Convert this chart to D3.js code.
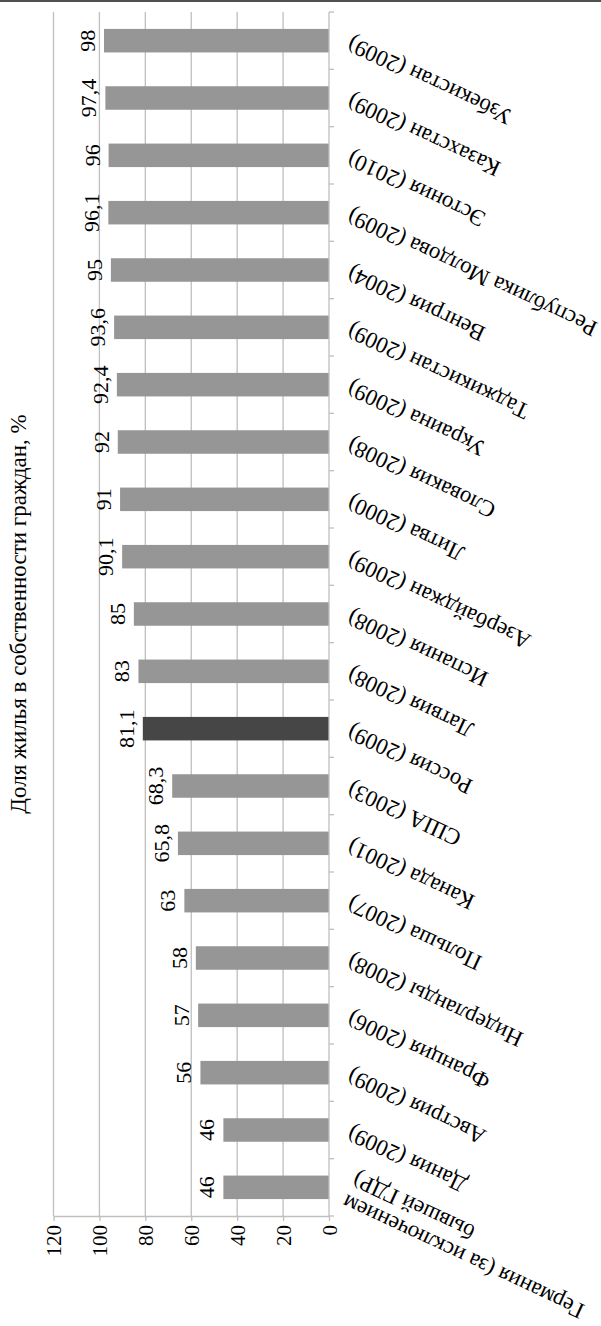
<!DOCTYPE html>
<html>
<head>
<meta charset="utf-8">
<script src="https://cdn.jsdelivr.net/npm/d3@7"></script>
<style>
  body { margin: 0; background: #fff; }
  svg { display: block; }
  svg text { font-family: "Liberation Serif", "Times New Roman", "DejaVu Serif", serif !important; fill: #000; }
</style>
</head>
<body>
<svg id="chart" width="601" height="1326"></svg>
<script>
// Categories listed from the top of the chart downwards
const categories = [
  "Узбекистан (2009)",
  "Казахстан (2009)",
  "Эстония (2010)",
  "Республика Молдова (2009)",
  "Венгрия (2004)",
  "Таджикистан (2009)",
  "Украина (2009)",
  "Словакия (2008)",
  "Литва (2000)",
  "Азербайджан (2009)",
  "Испания (2008)",
  "Латвия (2008)",
  "Россия (2009)",
  "США (2003)",
  "Канада (2001)",
  "Польша (2007)",
  "Нидерланды (2008)",
  "Франция (2006)",
  "Австрия (2009)",
  "Дания (2009)",
  "Германия (за исключением\nбывшей ГДР)"
];
const values = [98, 97.4, 96, 96.1, 95, 93.6, 92.4, 92, 91, 90.1, 85, 83, 81.1, 68.3, 65.8, 63, 58, 57, 56, 46, 46];
const highlighted = "Россия (2009)";
const valueTicks = [0, 20, 40, 60, 80, 100, 120];
const axisTitle = "Доля жилья в собственности граждан, %";

const data = categories.map((c, i) => ({ cat: c, value: values[i] }));
const fmt = v => String(v).replace(".", ",");

const FONT = "'Liberation Serif', 'Times New Roman', 'DejaVu Serif', serif";
const svg = d3.select("#chart");
const gridColor = "#bfbfbf";

// page rule across the top
svg.append("line")
  .attr("x1", 0).attr("x2", 601).attr("y1", 1).attr("y2", 1)
  .attr("stroke", "#505050").attr("stroke-width", 2);

// value runs from right (0) to left (120)
const x = d3.scaleLinear().domain([0, 120]).range([329, 53.5]);
const y = d3.scaleBand().domain(categories).range([12, 1216])
  .paddingInner(0.59).paddingOuter(0.295);

// gridlines
svg.append("g").selectAll("line")
  .data(valueTicks.filter(t => t > 0))
  .join("line")
  .attr("x1", d => x(d)).attr("x2", d => x(d))
  .attr("y1", 12).attr("y2", 1216)
  .attr("stroke", gridColor).attr("stroke-width", 1.3);

// bars
svg.append("g").selectAll("rect")
  .data(data)
  .join("rect")
  .attr("x", d => x(d.value))
  .attr("y", d => y(d.cat))
  .attr("width", d => x(0) - x(d.value))
  .attr("height", y.bandwidth())
  .attr("fill", d => d.cat === highlighted ? "#464646" : "#969696");

// value axis
const xAxis = svg.append("g")
  .attr("transform", "translate(0,1216)")
  .call(d3.axisBottom(x).tickValues(valueTicks).tickSize(5).tickSizeOuter(0).tickFormat(d => d))
  .attr("font-family", FONT);
xAxis.select(".domain").attr("stroke", gridColor).attr("stroke-width", 1.3);
xAxis.selectAll(".tick line").attr("stroke", gridColor).attr("stroke-width", 1.3);
xAxis.selectAll(".tick text")
  .attr("transform", "rotate(-90)")
  .attr("x", -9).attr("y", 0).attr("dy", "0.35em")
  .attr("text-anchor", "end")
  .attr("font-family", FONT)
  .attr("font-size", 21).attr("fill", "#000");

// category axis line with ticks at band boundaries
const catAxis = svg.append("g");
catAxis.append("line")
  .attr("x1", 329).attr("x2", 329).attr("y1", 12).attr("y2", 1216)
  .attr("stroke", gridColor).attr("stroke-width", 1.3);
catAxis.selectAll("line.tk")
  .data(d3.range(categories.length + 1))
  .join("line").attr("class", "tk")
  .attr("x1", 329).attr("x2", 334)
  .attr("y1", i => 12 + i * y.step()).attr("y2", i => 12 + i * y.step())
  .attr("stroke", gridColor).attr("stroke-width", 1.3);

// category labels
const lineH = 25;
const catLabels = svg.append("g").selectAll("text")
  .data(data)
  .join("text")
  .attr("transform", d => `translate(352,${y(d.cat) + y.bandwidth() / 2 - 4.6}) rotate(205)`)
  .attr("text-anchor", "end")
  .attr("font-family", FONT)
  .attr("font-size", 23);
catLabels.each(function (d) {
  const lines = d.cat.split("\n");
  d3.select(this).selectAll("tspan")
    .data(lines)
    .join("tspan")
    .attr("x", 0)
    .attr("y", (l, i) => (i - (lines.length - 1) / 2) * lineH)
    .text(l => l);
});

// value labels
svg.append("g").selectAll("text")
  .data(data)
  .join("text")
  .each(function (d) {
    const px = x(d.value) - 9, py = y(d.cat) + y.bandwidth() / 2;
    d3.select(this).attr("x", px).attr("y", py)
      .attr("transform", `rotate(-90,${px},${py})`);
  })
  .attr("text-anchor", "middle")
  .attr("font-family", FONT)
  .attr("font-size", 22)
  .text(d => fmt(d.value));

// axis title
svg.append("text")
  .attr("x", 26).attr("y", 614)
  .attr("transform", "rotate(-90,26,614)")
  .attr("text-anchor", "middle")
  .attr("font-family", FONT)
  .attr("font-size", 23)
  .text(axisTitle);
</script>
</body>
</html>
